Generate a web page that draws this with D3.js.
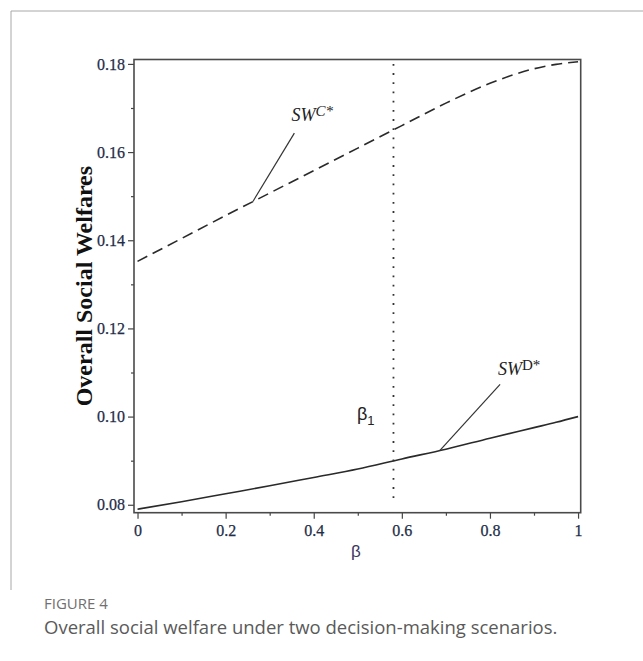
<!DOCTYPE html>
<html>
<head>
<meta charset="utf-8">
<script src="https://cdn.jsdelivr.net/npm/d3@7/dist/d3.min.js"></script>
<style>
  html, body { margin: 0; padding: 0; background: #fff; }
  svg { display: block; }
</style>
</head>
<body>
<svg id="chart" width="643" height="661"></svg>
<script>
// ---- data ----
const betaValues = [0, 0.1, 0.2, 0.3, 0.4, 0.5, 0.6, 0.7, 0.8, 0.9, 0.95, 1.0];
const swC = [0.1352, 0.1404, 0.1456, 0.1507, 0.1558, 0.1609, 0.1660, 0.1711, 0.1756, 0.1789, 0.1799, 0.1805];
const swD = [0.0790, 0.0807, 0.0825, 0.0843, 0.0862, 0.0881, 0.0904, 0.0926, 0.0951, 0.0975, 0.0987, 0.1000];
const beta1 = 0.581;
const xTicks = [0, 0.2, 0.4, 0.6, 0.8, 1];
const xTickLabels = ["0", "0.2", "0.4", "0.6", "0.8", "1"];
const xMinorTicks = [0.1, 0.3, 0.5, 0.7, 0.9];
const yTicks = [0.08, 0.10, 0.12, 0.14, 0.16, 0.18];
const yTickLabels = ["0.08", "0.10", "0.12", "0.14", "0.16", "0.18"];
const yMinorTicks = [0.09, 0.11, 0.13, 0.15, 0.17];

// ---- layout ----
const svg = d3.select("#chart");
const frame = { left: 134, right: 580.7, top: 59.5, bottom: 512.7 };
const x = d3.scaleLinear().domain([-0.008, 1.006]).range([frame.left, frame.right]);
const y = d3.scaleLinear().domain([0.0782, 0.1810]).range([frame.bottom, frame.top]);

const serif = "'Liberation Serif', 'Times New Roman', serif";
const sans = "'Liberation Sans', Arial, sans-serif";
const tickColor = "#222d48";
const lineColor = "#2a2a2a";

// outer figure border (left + top)
svg.append("path")
  .attr("d", "M11,590 L11,11 L643,11")
  .attr("fill", "none").attr("stroke", "#a8a8a8").attr("stroke-width", 1);

// ---- axes ----
const yAxis = d3.axisLeft(y).tickValues(yTicks)
  .tickFormat((d, i) => yTickLabels[i]).tickSize(6).tickPadding(3);
const gy = svg.append("g").attr("transform", `translate(${frame.left},0)`).call(yAxis);
gy.select(".domain").remove();
gy.selectAll("line").attr("stroke", "#444").attr("stroke-width", 1.2);
gy.selectAll("text").attr("fill", tickColor).attr("stroke", tickColor).attr("stroke-width", 0.25)
  .attr("font-family", serif).attr("font-size", 16);

const yMinor = d3.axisLeft(y).tickValues(yMinorTicks).tickFormat("").tickSize(3);
const gym = svg.append("g").attr("transform", `translate(${frame.left},0)`).call(yMinor);
gym.select(".domain").remove();
gym.selectAll("line").attr("stroke", "#444").attr("stroke-width", 1.2);

const xAxis = d3.axisBottom(x).tickValues(xTicks)
  .tickFormat((d, i) => xTickLabels[i]).tickSize(6).tickPadding(6);
const gx = svg.append("g").attr("transform", `translate(0,${frame.bottom})`).call(xAxis);
gx.select(".domain").remove();
gx.selectAll("line").attr("stroke", "#444").attr("stroke-width", 1.2);
gx.selectAll("text").attr("fill", tickColor).attr("stroke", tickColor).attr("stroke-width", 0.25)
  .attr("font-family", serif).attr("font-size", 16);

const xMinor = d3.axisBottom(x).tickValues(xMinorTicks).tickFormat("").tickSize(3);
const gxm = svg.append("g").attr("transform", `translate(0,${frame.bottom})`).call(xMinor);
gxm.select(".domain").remove();
gxm.selectAll("line").attr("stroke", "#444").attr("stroke-width", 1.2);

// plot frame
svg.append("rect")
  .attr("x", frame.left).attr("y", frame.top)
  .attr("width", frame.right - frame.left).attr("height", frame.bottom - frame.top)
  .attr("fill", "none").attr("stroke", "#4a4a4a").attr("stroke-width", 1.6);

// ---- curves ----
const line = d3.line().x(d => x(d[0])).y(d => y(d[1])).curve(d3.curveMonotoneX);

svg.append("path")
  .datum(betaValues.map((b, i) => [b, swC[i]]))
  .attr("d", line)
  .attr("fill", "none").attr("stroke", lineColor).attr("stroke-width", 1.6)
  .attr("stroke-dasharray", "11,6");

svg.append("path")
  .datum(betaValues.map((b, i) => [b, swD[i]]))
  .attr("d", line)
  .attr("fill", "none").attr("stroke", lineColor).attr("stroke-width", 1.6);

// beta1 dotted vertical
svg.append("line")
  .attr("x1", x(beta1)).attr("x2", x(beta1))
  .attr("y1", y(0.18)).attr("y2", y(0.08))
  .attr("stroke", "#333").attr("stroke-width", 1.8)
  .attr("stroke-dasharray", "1.8,7.4");

// ---- annotations ----
// SW^C* pointer
svg.append("line")
  .attr("x1", x(0.356)).attr("y1", y(0.1643))
  .attr("x2", x(0.262)).attr("y2", y(0.1488))
  .attr("stroke", "#333").attr("stroke-width", 1.2);
const tC = svg.append("text").attr("x", 291.5).attr("y", 121)
  .attr("font-family", serif).attr("font-style", "italic").attr("font-size", 18).attr("fill", "#222");
tC.append("tspan").text("SW");
tC.append("tspan").attr("dy", -5).attr("font-size", 15).text("C*");

// SW^D* pointer
svg.append("line")
  .attr("x1", x(0.823)).attr("y1", y(0.1073))
  .attr("x2", x(0.686)).attr("y2", y(0.0923))
  .attr("stroke", "#333").attr("stroke-width", 1.2);
const tD = svg.append("text").attr("x", 498).attr("y", 375)
  .attr("font-family", serif).attr("font-size", 18).attr("fill", "#222");
tD.append("tspan").attr("font-style", "italic").text("SW");
tD.append("tspan").attr("dy", -5).attr("font-size", 15).text("D*");

// beta1 label
const tB = svg.append("text").attr("x", 357).attr("y", 420)
  .attr("font-family", sans).attr("font-size", 18).attr("fill", "#222");
tB.append("tspan").text("β");
tB.append("tspan").attr("dy", 5).attr("font-size", 13).text("1");

// axis titles
svg.append("text")
  .attr("transform", `translate(92,${(frame.top + frame.bottom) / 2}) rotate(-90)`)
  .attr("text-anchor", "middle")
  .attr("font-family", serif).attr("font-weight", "bold").attr("font-size", 24).attr("fill", "#111")
  .text("Overall Social Welfares");

svg.append("text")
  .attr("x", 356).attr("y", 557).attr("text-anchor", "middle")
  .attr("font-family", sans).attr("font-size", 17).attr("fill", "#3c3560")
  .text("β");

// caption
svg.append("text").attr("x", 44).attr("y", 609)
  .attr("font-family", "'Open Sans', sans-serif").attr("font-size", 15).attr("fill", "#707070")
  .text("FIGURE 4");
svg.append("text").attr("x", 44).attr("y", 634)
  .attr("font-family", "'Open Sans', sans-serif").attr("font-size", 18.5).attr("fill", "#5a5a5a")
  .text("Overall social welfare under two decision-making scenarios.");
</script>
</body>
</html>
